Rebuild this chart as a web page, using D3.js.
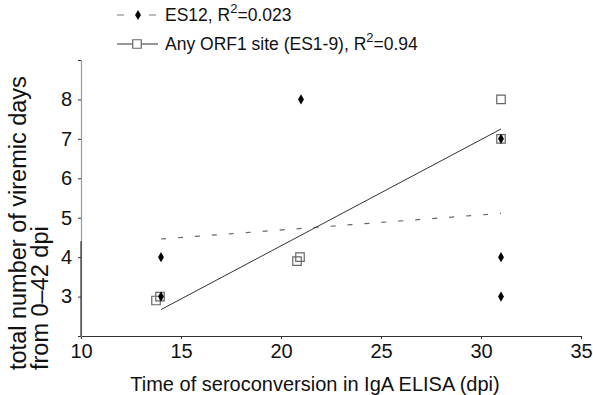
<!DOCTYPE html>
<html>
<head>
<meta charset="utf-8">
<script src="https://cdn.jsdelivr.net/npm/d3@7"></script>
<style>
  body { margin: 0; background: #fff; }
  text { font-family: "Liberation Sans", Arial, sans-serif; fill: #111; }
</style>
</head>
<body>
<svg id="chart" width="593" height="395"></svg>
<script>
// values
const xTicks = [10, 15, 20, 25, 30, 35];
const yTicks = [2, 3, 4, 5, 6, 7, 8, 9];
const yTickLabels = ["", "3", "4", "5", "6", "7", "8", ""];

const es12Points = [[14, 4], [14, 3], [21, 8], [31, 7], [31, 4], [31, 3]];
const orf1Points = [[13.75, 2.9], [13.95, 3.0], [20.8, 3.9], [20.95, 4.0], [31, 8], [31, 7]];

const es12Trend = [[14, 4.46], [31, 5.11]];
const orf1Trend = [[14, 2.67], [31, 7.25]];

const legendItems = [
    {name: "ES12, R", sup: "2", rest: "=0.023", dash: "7,9", marker: "diamond"},
    {name: "Any ORF1 site (ES1-9), R", sup: "2", rest: "=0.94", dash: null, marker: "square"}
];

const svg = d3.select("#chart");

const x = d3.scaleLinear().domain([10, 35]).range([81, 581]);
const y = d3.scaleLinear().domain([2, 9]).range([336, 60]);

// axes
const xAxis = svg.append("g")
    .attr("transform", "translate(0,336)")
    .call(d3.axisBottom(x).tickValues(xTicks).tickSize(3).tickPadding(5).tickFormat(d3.format("d")));
const yAxis = svg.append("g")
    .attr("transform", "translate(81,0)")
    .call(d3.axisLeft(y).tickValues(yTicks).tickSize(3).tickPadding(6).tickFormat((d, i) => yTickLabels[i]));

[xAxis, yAxis].forEach(g => {
    g.select(".domain").attr("stroke", "#333").attr("stroke-width", 1.2);
    g.selectAll(".tick line").attr("stroke", "#333");
    g.selectAll(".tick text")
        .style("font-family", "'Liberation Sans', Arial, sans-serif")
        .style("font-size", "20px")
        .attr("fill", "#111");
});
// upper part of the y axis is lighter in the scan
yAxis.select(".domain").attr("stroke", "#999");
svg.append("line")
    .attr("x1", 81).attr("x2", 81)
    .attr("y1", y(4.4)).attr("y2", y(2))
    .attr("stroke", "#333").attr("stroke-width", 1.2);

// axis titles
svg.append("text")
    .attr("x", 315).attr("y", 391)
    .attr("text-anchor", "middle")
    .style("font-size", "20px")
    .text("Time of seroconversion in IgA ELISA (dpi)");

const yTitle = svg.append("text")
    .attr("transform", "translate(26,370) rotate(-90)")
    .attr("text-anchor", "start")
    .style("font-size", "23.5px");
yTitle.append("tspan").attr("x", 0).attr("dy", 0).text("total number of viremic days");
yTitle.append("tspan").attr("x", 0).attr("dy", 22).text("from 0\u201342 dpi");

// trend lines
const line = d3.line().x(d => x(d[0])).y(d => y(d[1]));

svg.append("path")
    .datum(es12Trend)
    .attr("d", line)
    .attr("fill", "none")
    .attr("stroke", "#666")
    .attr("stroke-width", 1.2)
    .attr("stroke-dasharray", "5,12");

svg.append("path")
    .datum(orf1Trend)
    .attr("d", line)
    .attr("fill", "none")
    .attr("stroke", "#333")
    .attr("stroke-width", 1);

// markers
const square = d3.symbol().type(d3.symbolSquare).size(72);
const diamond = d3.symbol().type(d3.symbolDiamond).size(30);

svg.append("g").selectAll("path")
    .data(orf1Points)
    .enter()
    .append("path")
    .attr("d", square)
    .attr("transform", d => `translate(${x(d[0])},${y(d[1])})`)
    .attr("fill", "none")
    .attr("stroke", "#666")
    .attr("stroke-width", 1.2);

svg.append("g").selectAll("path")
    .data(es12Points)
    .enter()
    .append("path")
    .attr("d", diamond)
    .attr("transform", d => `translate(${x(d[0])},${y(d[1])})`)
    .attr("fill", "#000");

// legend
const legend = svg.append("g");
legendItems.forEach((item, i) => {
    const cy = 15 + i * 29;
    const g = legend.append("g").attr("transform", `translate(0,${cy})`);
    g.append("line")
        .attr("x1", 117).attr("x2", 158)
        .attr("y1", 0).attr("y2", 0)
        .attr("stroke", item.dash ? "#777" : "#333")
        .attr("stroke-width", 1.2)
        .attr("stroke-dasharray", item.dash);
    if (item.marker === "diamond") {
        g.append("rect").attr("x", 130).attr("y", -3).attr("width", 16).attr("height", 6).attr("fill", "#fff");
        g.append("path").attr("d", diamond).attr("transform", "translate(138,0)").attr("fill", "#000");
    } else {
        g.append("path").attr("d", square).attr("transform", "translate(137,0)")
            .attr("fill", "#fff").attr("stroke", "#666").attr("stroke-width", 1.2);
    }
    const t = g.append("text")
        .attr("x", 165).attr("y", 6)
        .style("font-size", "17.5px");
    t.append("tspan").text(item.name);
    t.append("tspan").attr("dy", -8).style("font-size", "13px").text(item.sup);
    t.append("tspan").attr("dy", 8).text(item.rest);
});
</script>
</body>
</html>
